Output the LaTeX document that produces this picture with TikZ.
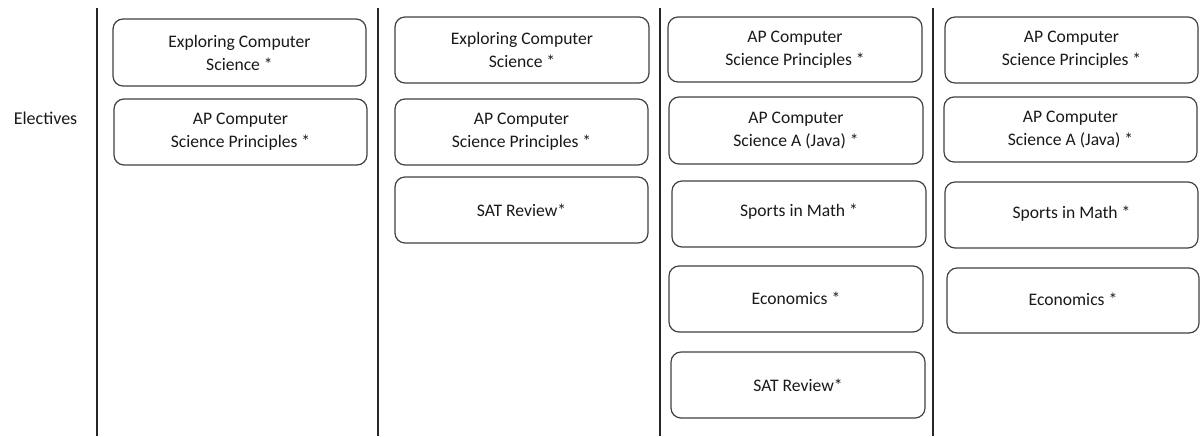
\documentclass[tikz,border=0pt]{standalone}
\usepackage{fontspec}
\setmainfont{Carlito}
\begin{document}
\begin{tikzpicture}[x=0.75pt,y=-0.75pt,
  course/.style={draw=black!75, line width=0.9pt, rounded corners=7.5pt,
    inner sep=0pt, align=center, text=black!90,
    font=\fontsize{13.2}{17.25}\selectfont},
  divider/.style={draw=black!85, line width=0.9pt},
  rowlabel/.style={text=black!90, font=\fontsize{13.5}{16}\selectfont}]
\useasboundingbox (0,0) rectangle (1201,436);

% column dividers
\foreach \n/\x in {a/97,b/378,c/660,d/933}{
  \coordinate (\n top) at (\x,8);
  \coordinate (\n bot) at (\x,436);
  \draw[divider] (\n top) -- (\n bot);
}

\node[rowlabel] (electives) at (45.5,118) {Electives};

% a course box from its corners (x1,y1,x2,y2) in pixels
\newcommand{\course}[6]{%
  \node[course, minimum width={(#4-#2)*0.75pt}, minimum height={(#5-#3)*0.75pt}]
    (#1) at ({(#2+#4)/2},{(#3+#5)/2}) {#6};}

% column 1
\course{a1}{113}{19}{366}{86}{Exploring Computer\\Science *}
\course{a2}{114}{99}{367}{165}{AP Computer\\Science Principles *}
% column 2
\course{b1}{395}{17}{649}{83}{Exploring Computer\\Science *}
\course{b2}{395}{99}{648}{165}{AP Computer\\Science Principles *}
\course{b3}{395}{177}{648}{243}{SAT Review*}
% column 3
\course{c1}{668}{17}{922}{82}{AP Computer\\Science Principles *}
\course{c2}{669}{97}{923}{164}{AP Computer\\Science A (Java) *}
\course{c3}{672}{181}{926}{247}{\raisebox{5pt}{Sports in Math *}}
\course{c4}{669}{266}{923}{332}{\raisebox{1.5pt}{Economics *}}
\course{c5}{671}{352}{925}{418}{SAT Review*}
% column 4
\course{d1}{945}{17}{1198}{83}{AP Computer\\Science Principles *}
\course{d2}{944}{97}{1197}{162}{AP Computer\\Science A (Java) *}
\course{d3}{945}{182}{1198}{248}{\raisebox{4pt}{Sports in Math *}}
\course{d4}{947}{268}{1199}{333}{\raisebox{1.5pt}{Economics *}}
\end{tikzpicture}
\end{document}
